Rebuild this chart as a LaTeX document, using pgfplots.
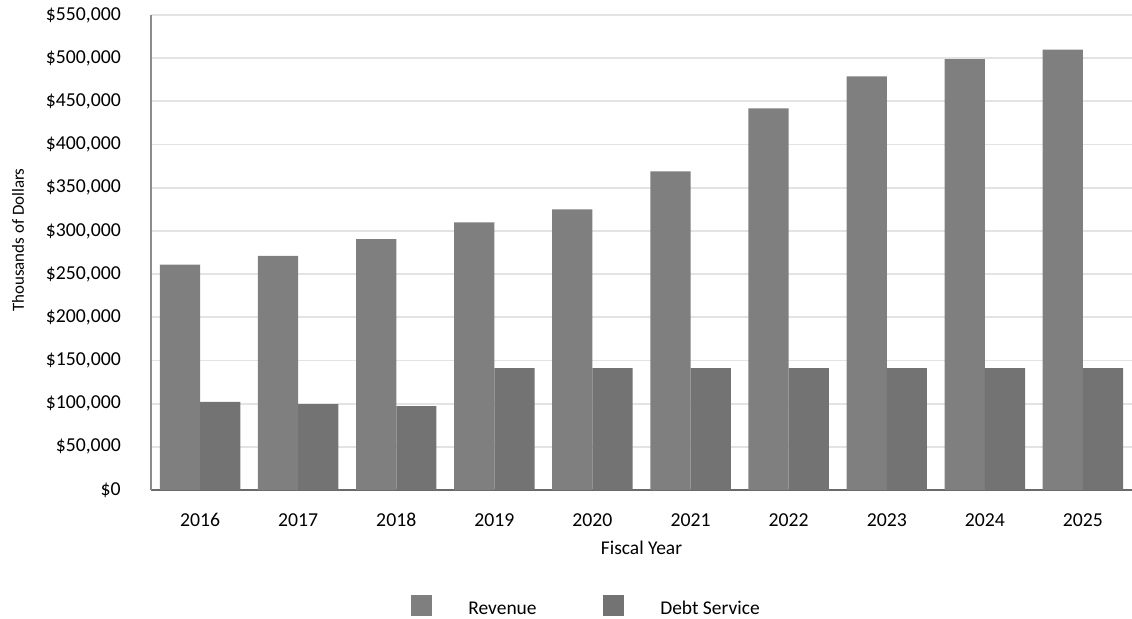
\documentclass[border=0pt]{standalone}
\usepackage{pgfplots}
\pgfplotsset{compat=1.18}
\usepackage{fontspec}
\setmainfont{Carlito}
\definecolor{rev}{HTML}{7F7F7F}
\definecolor{debt}{HTML}{737373}
\definecolor{gridc}{HTML}{E3E3E3}
\definecolor{yax}{HTML}{8C8C8C}
\definecolor{xax}{HTML}{6A6A6A}
\begin{document}
\fontsize{14.6pt}{17.5pt}\selectfont
\begin{tikzpicture}
\path[use as bounding box] (0,0) rectangle (849pt,463.5pt);
\begin{axis}[
  at={(113.25pt,96pt)}, anchor=south west,
  scale only axis, width=735.75pt, height=356.25pt,
  ybar=0pt, bar width=0.41,
  xmin=-0.5, xmax=9.5, ymin=0, ymax=550000,
  xtick={0,1,2,3,4,5,6,7,8,9},
  xticklabels={2016,2017,2018,2019,2020,2021,2022,2023,2024,2025},
  ytick distance=50000,
  scaled y ticks=false,
  yticklabel={\$\pgfmathprintnumber[fixed,1000 sep={,},assume math mode=true]{\tick}},
  /pgf/number format/assume math mode=true,
  major tick length=0pt,
  axis x line*=bottom, axis y line*=left,
  axis line style={-},
  x axis line style={draw=xax, line width=1.5pt},
  y axis line style={draw=yax, line width=1.2pt},
  ymajorgrids, grid style={draw=gridc, line width=1.4pt},
  xmajorgrids=false,
  tick label style={font=\fontsize{14.8pt}{17.5pt}\selectfont, text=black},
  xticklabel style={inner sep=0pt, anchor=base, yshift=-27pt},
  yticklabel style={inner sep=0pt, anchor=east, xshift=-22.5pt},
  xlabel={Fiscal Year},
  every axis x label/.style={at={(axis description cs:0.5,0)}, anchor=center, yshift=-43.5pt, font=\fontsize{14.6pt}{17.5pt}\selectfont},
  ylabel={Thousands of Dollars},
  every axis y label/.style={at={(axis description cs:-0.1356,0.526)}, anchor=center, rotate=90, font=\fontsize{12.7pt}{15pt}\selectfont},
  legend columns=2,
  legend style={draw=none, fill=none, at={(axis description cs:0.443,0)}, anchor=center, yshift=-87.75pt,
    font=\fontsize{14.6pt}{17.5pt}\selectfont,
    nodes={inner sep=0pt, text height=10pt, text depth=3pt},
    /tikz/every odd column/.append style={column sep=27pt},
    /tikz/every even column/.append style={column sep=50pt}},
  legend image code/.code={\fill[#1] (0pt,-4.5pt) rectangle (15.75pt,11.25pt);},
]
\addplot[fill=rev, draw=none] coordinates {
(0,261000) (1,271000) (2,290500) (3,310000) (4,325000) (5,369000) (6,442000) (7,479000) (8,499000) (9,510000)};
\addlegendentry{Revenue}
\addplot[fill=debt, draw=none] coordinates {
(0,102000) (1,99500) (2,97000) (3,141000) (4,141000) (5,141000) (6,141000) (7,141000) (8,141000) (9,141000)};
\addlegendentry{Debt Service}
\end{axis}
\end{tikzpicture}
\end{document}
